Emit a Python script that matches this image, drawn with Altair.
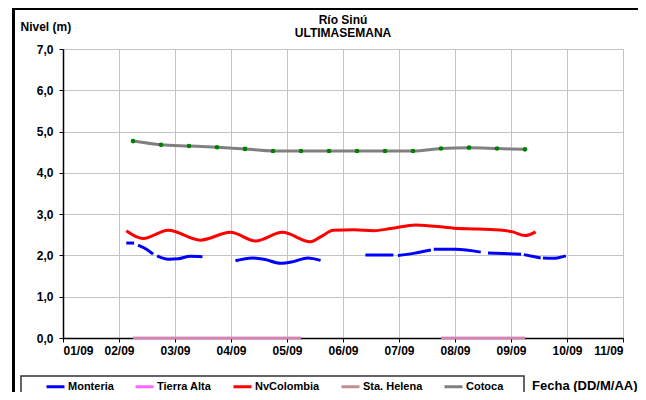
import json
import altair as alt
import pandas as pd

# ---------------- data (time in days since 01/09 00:00) ----------------
title_lines = ["Río Sinú", "ULTIMASEMANA"]
x_labels = ["01/09", "02/09", "03/09", "04/09", "05/09", "06/09",
            "07/09", "08/09", "09/09", "10/09", "11/09"]
series_names = ["Monteria", "Tierra Alta", "NvColombia", "Sta. Helena", "Cotoca"]
series_colors = ["#0000FF", "#FF66FF", "#FF0000", "#C09090", "#808080"]

# Monteria: segments (gaps = missing readings)
monteria_segments = [
    ([1.13, 1.27], [2.30, 2.30]),
    ([1.34, 1.49, 1.61], [2.25, 2.15, 2.03]),
    ([1.68, 1.88, 2.06, 2.27, 2.49], [1.99, 1.91, 1.92, 1.98, 1.97]),
    ([3.08, 3.38, 3.61, 3.88, 4.11, 4.37, 4.60], [1.87, 1.94, 1.90, 1.81, 1.85, 1.94, 1.88]),
    ([5.40, 5.90], [2.01, 2.01]),
    ([5.98, 6.26, 6.57], [2.00, 2.05, 2.13]),
    ([6.62, 7.01, 7.46], [2.15, 2.15, 2.08]),
    ([7.59, 8.18], [2.06, 2.03]),
    ([8.23, 8.53], [2.02, 1.94]),
    ([8.57, 8.75, 8.98], [1.94, 1.93, 1.99]),
]

nvcol_t = [1.13, 1.43, 1.88, 2.45, 2.99, 3.44, 3.92, 4.42, 4.60, 4.83, 5.19,
           5.55, 5.85, 6.30, 6.98, 7.41, 7.85, 8.03, 8.25, 8.44]
nvcol_v = [2.60, 2.41, 2.61, 2.37, 2.56, 2.35, 2.56, 2.33, 2.45, 2.61, 2.62,
           2.60, 2.65, 2.74, 2.66, 2.64, 2.61, 2.57, 2.48, 2.57]

cotoca_t = [1.25, 1.75, 2.25, 2.75, 3.25, 3.75, 4.25, 4.75, 5.25, 5.75,
            6.25, 6.75, 7.25, 7.75, 8.25]
cotoca_v = [4.77, 4.68, 4.65, 4.62, 4.58, 4.53, 4.53, 4.53, 4.53, 4.53,
            4.53, 4.59, 4.61, 4.59, 4.57]

zero_segments = [
    ([1.25, 1.75, 2.25, 2.75, 3.25, 3.75, 4.25], [0, 0, 0, 0, 0, 0, 0]),
    ([6.75, 7.25, 7.75, 8.25], [0, 0, 0, 0]),
]

# ---------------- build long table ----------------
rows = []
for i, (ts, vs) in enumerate(monteria_segments):
    for t, v in zip(ts, vs):
        rows.append({"series": "Monteria", "seg": f"m{i}", "t": t, "v": v})
for name in ["Tierra Alta", "Sta. Helena"]:
    for i, (ts, vs) in enumerate(zero_segments):
        for t, v in zip(ts, vs):
            rows.append({"series": name, "seg": f"{name}{i}", "t": t, "v": v})
for t, v in zip(nvcol_t, nvcol_v):
    rows.append({"series": "NvColombia", "seg": "n0", "t": t, "v": v})
for t, v in zip(cotoca_t, cotoca_v):
    rows.append({"series": "Cotoca", "seg": "c0", "t": t, "v": v})
df = pd.DataFrame(rows)
df_cot = pd.DataFrame({"t": cotoca_t, "v": cotoca_v})

FONT = "Liberation Sans"
W, H = 560, 289

x_enc = alt.X(
    "t:Q",
    scale=alt.Scale(domain=[0, 10], nice=False, zero=False),
    axis=alt.Axis(
        values=list(range(11)),
        labelExpr=f"{json.dumps(x_labels)}[round(datum.value)]",
        title="Fecha (DD/M/AA)",
        titleFont=FONT, titleFontSize=13, titleFontWeight="bold", titleColor="black",
        titleAnchor="start", titleAlign="right", titleBaseline="alphabetic",
        titleX=574, titleY=51,
        labelFont=FONT, labelFontSize=12, labelFontWeight="bold", labelColor="black",
        labelPadding=3, tickSize=4, tickColor="black",
        domainColor="black", domainWidth=1.5,
        grid=True, gridColor="#c4c4c4", gridWidth=1,
    ),
)
y_enc = alt.Y(
    "v:Q",
    scale=alt.Scale(domain=[0, 7], nice=False),
    axis=alt.Axis(
        values=[i * 0.5 for i in range(15)],
        labelExpr="datum.value % 1 == 0 ? replace(format(datum.value, '.1f'), '.', ',') : ''",
        tickOpacity={"condition": {"test": "datum.value % 1 == 0", "value": 1}, "value": 0},
        title="Nivel (m)",
        titleFont=FONT, titleFontSize=12, titleFontWeight="bold", titleColor="black",
        titleAngle=0, titleAlign="left", titleBaseline="alphabetic",
        titleX=-43, titleY=-19,
        labelFont=FONT, labelFontSize=12, labelFontWeight="bold", labelColor="black",
        labelPadding=6, tickSize=4, tickColor="black",
        domainColor="black", domainWidth=1.5,
        grid=True, gridColor="#c4c4c4", gridWidth=1,
    ),
)

one = pd.DataFrame({"a": [0]})
df_title = pd.DataFrame({"txt": title_lines, "line": [0, 1]})

frame = alt.Chart(one).mark_rect(fillOpacity=0, stroke="black", strokeWidth=3).encode(
    x=alt.value(-49.5), x2=alt.value(700), y=alt.value(-40.5), y2=alt.value(500)
)
legend_box = alt.Chart(one).mark_rect(fill="white", stroke="#333333", strokeWidth=1.5).encode(
    x=alt.value(-42), x2=alt.value(461), y=alt.value(327), y2=alt.value(345)
)

title1 = alt.Chart(df_title.iloc[[0]]).mark_text(
    font=FONT, fontSize=12, fontWeight="bold", color="black", align="center", baseline="alphabetic"
).encode(text="txt:N", x=alt.value(280), y=alt.value(-25))
title2 = alt.Chart(df_title.iloc[[1]]).mark_text(
    font=FONT, fontSize=12, fontWeight="bold", color="black", align="center", baseline="alphabetic"
).encode(text="txt:N", x=alt.value(280), y=alt.value(-12))

lines = alt.Chart(df).mark_line(interpolate="monotone", clip=False).encode(
    x=x_enc,
    y=y_enc,
    color=alt.Color(
        "series:N",
        scale=alt.Scale(domain=series_names, range=series_colors),
        legend=alt.Legend(
            orient="none", legendX=-18, legendY=327, direction="horizontal",
            title=None, symbolType="stroke", symbolSize=324, symbolStrokeWidth=3,
            labelFont=FONT, labelFontSize=11, labelFontWeight="bold", labelColor="black",
            labelOffset=2, columnPadding=15, padding=0,
        ),
    ),
    detail="seg:N",
    strokeWidth=alt.condition(
        "datum.series == 'Tierra Alta' || datum.series == 'Sta. Helena'",
        alt.value(2.5), alt.value(3),
    ),
    strokeOpacity=alt.condition("datum.series == 'Sta. Helena'", alt.value(0.75), alt.value(1)),
)

points = alt.Chart(df_cot).mark_circle(color="#008000", size=22, opacity=1).encode(
    x="t:Q", y="v:Q"
)

chart = alt.layer(frame, legend_box, title1, title2, lines, points).properties(
    width=W, height=H,
    autosize=alt.AutoSizeParams(type="none"),
    padding={"left": 55, "top": 41, "right": 15, "bottom": 54},
).configure_view(stroke="#999999", strokeWidth=1).configure(background="white")

chart.save("out.html", embed_options={"renderer": "svg", "actions": False})
